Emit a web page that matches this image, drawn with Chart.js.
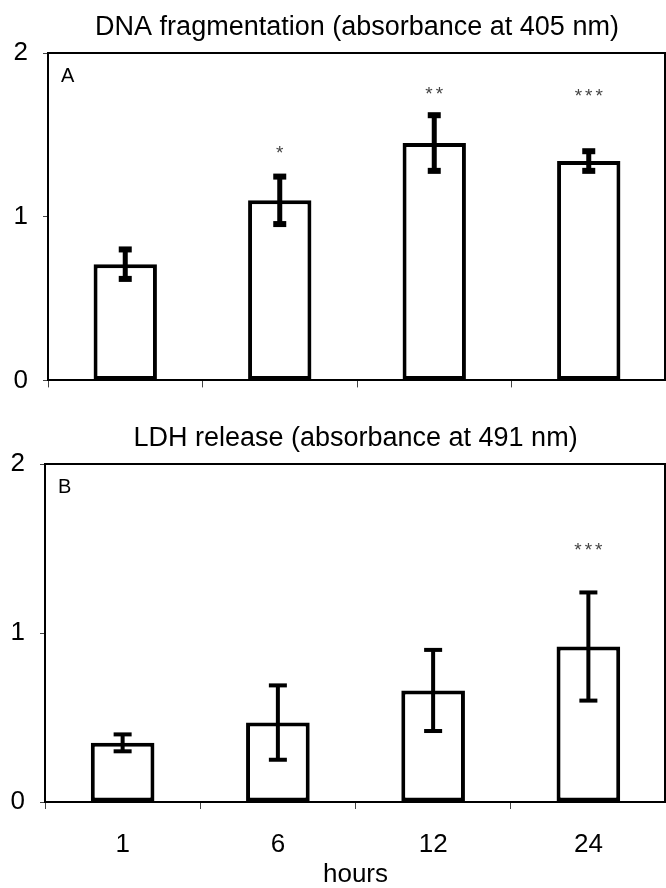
<!DOCTYPE html>
<html>
<head>
<meta charset="utf-8">
<script src="https://cdn.jsdelivr.net/npm/chart.js@4.4.0/dist/chart.umd.min.js"></script>
<style>
  body { margin: 0; background: #fff; }
  canvas { display: block; }
</style>
</head>
<body>
<canvas id="chartA" width="666" height="411"></canvas>
<canvas id="chartB" width="666" height="477"></canvas>
<script>
// data
const hours = ['1', '6', '12', '24'];
const yTicks = [0, 1, 2];

const dnaMean = [0.71, 1.10, 1.45, 1.34];
const dnaErr = [0.09, 0.145, 0.17, 0.06];
const dnaStars = ['', '*', '**', '***'];
const dnaStarY = [null, 1.41, 1.77, 1.76];

const ldhMean = [0.35, 0.47, 0.66, 0.92];
const ldhErr = [0.05, 0.22, 0.24, 0.32];
const ldhStars = ['', '', '', '***'];
const ldhStarY = [null, null, null, 1.51];

Chart.defaults.font.family = '"Liberation Sans", Arial, sans-serif';
Chart.defaults.color = '#000';

// error bars, significance stars and panel letter
const extras = {
  id: 'extras',
  afterDatasetsDraw(chart, args, opts) {
    const ctx = chart.ctx;
    const y = chart.scales.y;
    const meta = chart.getDatasetMeta(0);
    const vals = chart.data.datasets[0].data;
    ctx.save();
    ctx.fillStyle = '#000';
    meta.data.forEach((bar, i) => {
      const top = y.getPixelForValue(vals[i] + opts.errors[i]);
      const bot = y.getPixelForValue(vals[i] - opts.errors[i]);
      ctx.fillRect(bar.x - opts.stem / 2, top, opts.stem, bot - top);
      ctx.fillRect(bar.x - opts.cap / 2, top - opts.capH / 2, opts.cap, opts.capH);
      ctx.fillRect(bar.x - opts.cap / 2, bot - opts.capH / 2, opts.cap, opts.capH);
    });

    ctx.fillStyle = '#444';
    ctx.font = '19px "Liberation Sans", Arial, sans-serif';
    ctx.textAlign = 'center';
    ctx.textBaseline = 'middle';
    ctx.letterSpacing = '3px';
    opts.stars.forEach((s, i) => {
      if (s) ctx.fillText(s, meta.data[i].x + 1.5, y.getPixelForValue(opts.starY[i]) + 4);
    });
    ctx.letterSpacing = '0px';

    const area = chart.chartArea;
    ctx.fillStyle = '#000';
    ctx.font = '20px "Liberation Sans", Arial, sans-serif';
    ctx.textAlign = 'left';
    ctx.textBaseline = 'alphabetic';
    ctx.fillText(opts.letter, area.left + 13, area.top + 29);

    // top and right edge of the plot box
    ctx.strokeStyle = '#000';
    ctx.lineWidth = 2;
    ctx.beginPath();
    ctx.moveTo(area.left, area.top);
    ctx.lineTo(area.right - 1, area.top);
    ctx.lineTo(area.right - 1, area.bottom);
    ctx.stroke();
    ctx.restore();
  }
};

function makePanel(id, title, means, errs, stars, starY, letter, showX, axisW, xH, err) {
  return new Chart(document.getElementById(id), {
    type: 'bar',
    data: {
      labels: hours,
      datasets: [{
        data: means,
        backgroundColor: '#fff',
        borderColor: '#000',
        borderWidth: 4,
        borderSkipped: false,
        categoryPercentage: 1,
        barPercentage: 0.41
      }]
    },
    options: {
      responsive: false,
      animation: false,
      layout: { padding: 0 },
      plugins: {
        legend: { display: false },
        tooltip: { enabled: false },
        title: {
          display: true,
          text: title,
          fullSize: false,
          color: '#000',
          font: { size: 27, weight: 'normal', lineHeight: 1.2 },
          padding: { top: 11, bottom: 9.6 }
        },
        extras: {
          errors: errs, stars: stars, starY: starY, letter: letter,
          stem: err.stem, cap: err.cap, capH: err.capH
        }
      },
      scales: {
        x: {
          ticks: { display: showX, padding: 20, color: '#000', font: { size: 26 } },
          grid: { drawOnChartArea: false, tickLength: 7, color: '#444', offset: true },
          border: { color: '#000', width: 2 },
          title: {
            display: showX, text: 'hours', color: '#000',
            font: { size: 26, lineHeight: 1 }, padding: { top: 0, bottom: 0 }
          },
          afterFit(s) { s.height = xH; }
        },
        y: {
          min: 0,
          max: 2,
          afterBuildTicks(s) { s.ticks = yTicks.map(v => ({ value: v })); },
          ticks: { padding: 15, color: '#000', font: { size: 26 } },
          grid: { drawOnChartArea: false, tickLength: 5, color: '#444' },
          border: { color: '#000', width: 2 },
          afterFit(s) { s.width = axisW; }
        }
      }
    },
    plugins: [extras]
  });
}

makePanel('chartA', 'DNA fragmentation (absorbance at 405 nm)', dnaMean, dnaErr,
  dnaStars, dnaStarY, 'A', false, 48, 20, { stem: 5, cap: 13, capH: 6 });
makePanel('chartB', 'LDH release (absorbance at 491 nm)', ldhMean, ldhErr,
  ldhStars, ldhStarY, 'B', true, 45, 86, { stem: 4, cap: 18, capH: 4 });
</script>
</body>
</html>
